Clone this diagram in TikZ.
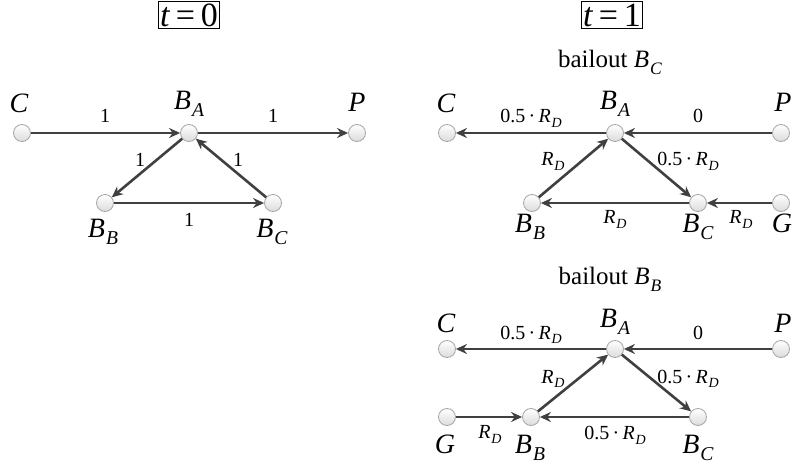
\documentclass[tikz,border=0pt]{standalone}
\usepackage{fontspec}
\setmainfont{Liberation Serif}
\usetikzlibrary{arrows.meta,positioning}
\definecolor{Wire}{HTML}{404040}
\definecolor{Rim}{HTML}{A6A6A6}
\newcommand{\sub}[2]{\textit{#1}\kern0.04em\raisebox{-0.25em}{\scalebox{0.7}{\textit{#2}}}}
\newcommand{\half}{0.5\,·\,\sub{R}{D}}
\tikzset{bank/.style={circle,draw=Rim,line width=0.8pt,top color=white,
    bottom color=gray!28,minimum size=17pt,inner sep=0pt},
  flow/.style={-{Stealth[length=11pt,width=10pt]},line width=2.6pt,draw=Wire},
  tag/.style={anchor=base,inner sep=0pt,font=\fontsize{28}{30}\selectfont},
  wt/.style={anchor=base,inner sep=0pt,font=\fontsize{20}{22}\selectfont},
  head/.style={anchor=base,inner sep=0pt,font=\fontsize{25}{27}\selectfont},
  stamp/.style={draw,line width=0.8pt,inner sep=2pt,font=\fontsize{34}{36}\selectfont}}
\begin{document}
\begin{tikzpicture}[x=1pt,y=-1pt]
  \useasboundingbox (0,0) rectangle (793,465);
  % t = 0
  \node[stamp] (s0) at (189,15) {\textit{t}\,=\,0};
  \node[bank] (c0) at (22,133) {};
  \node[bank] (ba0) at (189,133) {};
  \node[bank] (p0) at (357,133) {};
  \node[bank] (bb0) at (105,203) {};
  \node[bank] (bc0) at (273,203) {};
  \node[tag] (lc0) at (19,113) {\textit{C}};
  \node[tag] (lba0) at (189,110) {\sub{B}{A}};
  \node[tag] (lp0) at (357,112) {\textit{P}};
  \node[tag] (lbb0) at (103,238) {\sub{B}{B}};
  \node[tag] (lbc0) at (272,238) {\sub{B}{C}};
  \draw[flow] (c0)--(ba0);
  \draw[flow] (ba0)--(p0);
  \draw[flow] (ba0)--(bb0);
  \draw[flow] (bb0)--(bc0);
  \draw[flow] (bc0)--(ba0);
  \node[wt] (w01) at (105,123) {1};
  \node[wt] (w02) at (273,123) {1};
  \node[wt] (w03) at (140,167) {1};
  \node[wt] (w04) at (238,167) {1};
  \node[wt] (w05) at (189,227) {1};
  % t = 1, bailout B_C
  \node[stamp] (s1) at (612,15) {\textit{t}\,=\,1};
  \node[head] (h1) at (610,68) {bailout \sub{B}{C}};
  \node[bank] (c1) at (447,133) {};
  \node[bank] (ba1) at (615,133) {};
  \node[bank] (p1) at (781,133) {};
  \node[bank] (bb1) at (532,203) {};
  \node[bank] (bc1) at (698,203) {};
  \node[bank] (g1) at (781,203) {};
  \node[tag] (lc1) at (446,113) {\textit{C}};
  \node[tag] (lba1) at (615,110) {\sub{B}{A}};
  \node[tag] (lp1) at (783,112) {\textit{P}};
  \node[tag] (lbb1) at (530,233) {\sub{B}{B}};
  \node[tag] (lbc1) at (698,233) {\sub{B}{C}};
  \node[tag] (lg1) at (782,233) {\textit{G}};
  \draw[flow] (ba1)--(c1);
  \draw[flow] (p1)--(ba1);
  \draw[flow] (bb1)--(ba1);
  \draw[flow] (ba1)--(bc1);
  \draw[flow] (bc1)--(bb1);
  \draw[flow] (g1)--(bc1);
  \node[wt] (w11) at (531,123) {\half};
  \node[wt] (w12) at (698,123) {0};
  \node[wt] (w13) at (553,166) {\sub{R}{D}};
  \node[wt] (w14) at (688,166) {\half};
  \node[wt] (w15) at (615,224) {\sub{R}{D}};
  \node[wt] (w16) at (741,224) {\sub{R}{D}};
  % t = 1, bailout B_B
  \node[head] (h2) at (610,285) {bailout \sub{B}{B}};
  \node[bank] (c2) at (447,349) {};
  \node[bank] (ba2) at (615,349) {};
  \node[bank] (p2) at (781,349) {};
  \node[bank] (g2) at (447,417) {};
  \node[bank] (bb2) at (531,417) {};
  \node[bank] (bc2) at (698,417) {};
  \node[tag] (lc2) at (446,333) {\textit{C}};
  \node[tag] (lba2) at (615,327) {\sub{B}{A}};
  \node[tag] (lp2) at (783,332) {\textit{P}};
  \node[tag] (lg2) at (445,453) {\textit{G}};
  \node[tag] (lbb2) at (530,453) {\sub{B}{B}};
  \node[tag] (lbc2) at (698,453) {\sub{B}{C}};
  \draw[flow] (ba2)--(c2);
  \draw[flow] (p2)--(ba2);
  \draw[flow] (bb2)--(ba2);
  \draw[flow] (ba2)--(bc2);
  \draw[flow] (bc2)--(bb2);
  \draw[flow] (g2)--(bb2);
  \node[wt] (w21) at (531,339) {\half};
  \node[wt] (w22) at (698,339) {0};
  \node[wt] (w23) at (553,383) {\sub{R}{D}};
  \node[wt] (w24) at (688,383) {\half};
  \node[wt] (w25) at (490,438) {\sub{R}{D}};
  \node[wt] (w26) at (615,439) {\half};
\end{tikzpicture}
\end{document}
